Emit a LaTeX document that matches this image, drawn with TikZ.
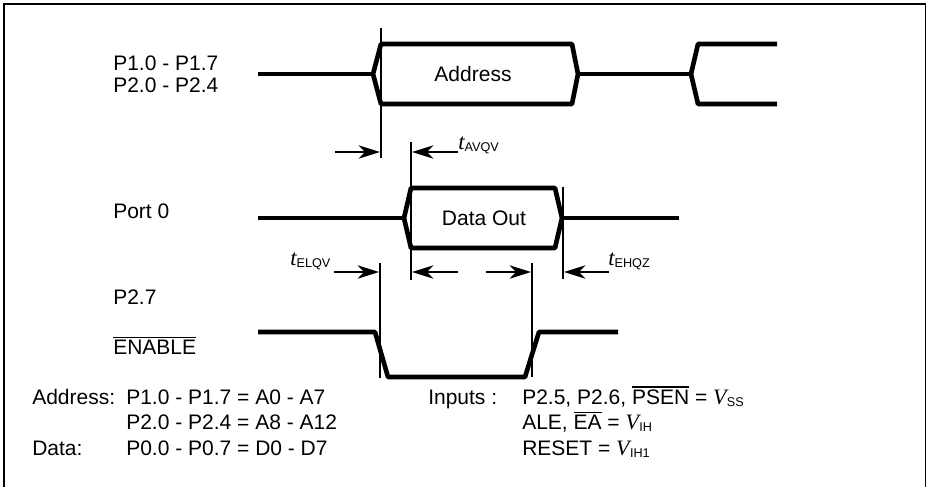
\documentclass[tikz,border=0pt]{standalone}
\usepackage{fontspec}
\setmainfont{Liberation Sans}
\newfontfamily\serifrm{Liberation Serif}
\usetikzlibrary{arrows.meta}
\newcommand\olbar[1]{\vbox{\hrule height 0.9pt\kern 1.7pt\hbox{#1}}}
\newcommand\subsc[1]{\raisebox{-1.5pt}{\fontsize{9.5}{10}\selectfont #1}}
\newcommand\tvar[1]{{\fontsize{17}{18}\selectfont\serifrm\itshape t}\subsc{#1}}
\newcommand\Vvar[1]{{\fontsize{16.5}{18}\selectfont\serifrm\itshape V}\kern0.3pt\subsc{#1}}
\begin{document}
\begin{tikzpicture}[x=0.75pt,y=-0.75pt,
  sig/.style={line width=3.5pt,line join=round},
  vline/.style={line width=1.6pt},
  arr/.style={line width=1.5pt,-{Stealth[length=16pt,width=10pt,inset=4.8pt]}},
  txt/.style={font=\fontsize{15.75}{18}\selectfont,inner sep=0pt},
  lbl/.style={txt,anchor=base west},
  tl/.style={font=\fontsize{15.75}{18}\selectfont,inner sep=0pt,anchor=base west}]
\path[use as bounding box] (0,0) rectangle (927,487);
\draw[line width=1pt] (4,487) -- (4,4) -- (925.5,4) -- (925.5,487);

% ---- Address signal
\draw[sig] (258,74) -- (373,74);
\draw[sig] (373,74) -- (381,44) -- (572,44) -- (578,74) -- (572,104) -- (381,104) -- cycle;
\draw[sig] (578,74) -- (691,74);
\draw[sig] (777,44) -- (698,44) -- (691,74) -- (698,104) -- (777,104);
\node[txt,anchor=base] (addr) at (473,81.5) {Address};

% ---- Port 0 signal
\draw[sig] (258,218) -- (404,218);
\draw[sig] (404,218) -- (411,188) -- (555,188) -- (562,218) -- (555,248) -- (411,248) -- cycle;
\draw[sig] (562,218) -- (679,218);
\node[txt,anchor=base] (dout) at (484,225.5) {Data Out};

% ---- ENABLE signal
\draw[sig] (258,332) -- (375,332) -- (388,377) -- (525,377) -- (539,332) -- (618,332);

% ---- timing marker lines
\coordinate (m1t) at (381,28);  \coordinate (m1b) at (381,158);
\coordinate (m2t) at (411,142); \coordinate (m2b) at (411,280);
\coordinate (m3t) at (563,187); \coordinate (m3b) at (563,279);
\coordinate (m4t) at (380,263); \coordinate (m4b) at (380,378);
\coordinate (m5t) at (532,263); \coordinate (m5b) at (532,377);
\draw[vline] (m1t) -- (m1b);
\draw[vline] (m2t) -- (m2b);
\draw[vline] (m3t) -- (m3b);
\draw[vline] (m4t) -- (m4b);
\draw[vline] (m5t) -- (m5b);

% ---- arrows
\coordinate (a1s) at (335,152); \coordinate (a1e) at (380,152);
\coordinate (a2s) at (458,152); \coordinate (a2e) at (412,152);
\coordinate (a3s) at (334,272); \coordinate (a3e) at (379,272);
\coordinate (a4s) at (458,272); \coordinate (a4e) at (412,272);
\coordinate (a5s) at (486,272); \coordinate (a5e) at (531,272);
\coordinate (a6s) at (609,272); \coordinate (a6e) at (564,272);
\draw[arr] (a1s) -- (a1e);
\draw[arr] (a2s) -- (a2e);
\draw[arr] (a3s) -- (a3e);
\draw[arr] (a4s) -- (a4e);
\draw[arr] (a5s) -- (a5e);
\draw[arr] (a6s) -- (a6e);

\node[tl] (tavqv) at (458,149) {\tvar{AVQV}};
\node[tl] (telqv) at (290,265) {\tvar{ELQV}};
\node[tl] (tehqz) at (608,265) {\tvar{EHQZ}};

% ---- signal names
\node[lbl] (p1) at (113,70.5) {P1.0 - P1.7};
\node[lbl] (p2) at (113,92.5) {P2.0 - P2.4};
\node[lbl] (port0) at (113,218.5) {Port 0};
\node[lbl] (p27) at (113,304.5) {P2.7};
\node[lbl] (enable) at (113,354.5) {\olbar{ENABLE}};

% ---- legend
\node[lbl] (la1) at (32,404.5) {Address:};
\node[lbl] (la2) at (126,404.5) {P1.0 - P1.7 = A0 - A7};
\node[lbl] (la3) at (126,429.5) {P2.0 - P2.4 = A8 - A12};
\node[lbl] (ld1) at (32,455.5) {Data:};
\node[lbl] (ld2) at (126,455.5) {P0.0 - P0.7 = D0 - D7};
\node[lbl] (li1) at (428,404.5) {Inputs :};
\node[lbl] (li2) at (522,404.5) {P2.5, P2.6, \olbar{PSEN} = \Vvar{SS}};
\node[lbl] (li3) at (522,429.5) {ALE, \olbar{EA} = \Vvar{IH}};
\node[lbl] (li4) at (522,455.5) {RESET = \Vvar{IH1}};
\end{tikzpicture}
\end{document}
